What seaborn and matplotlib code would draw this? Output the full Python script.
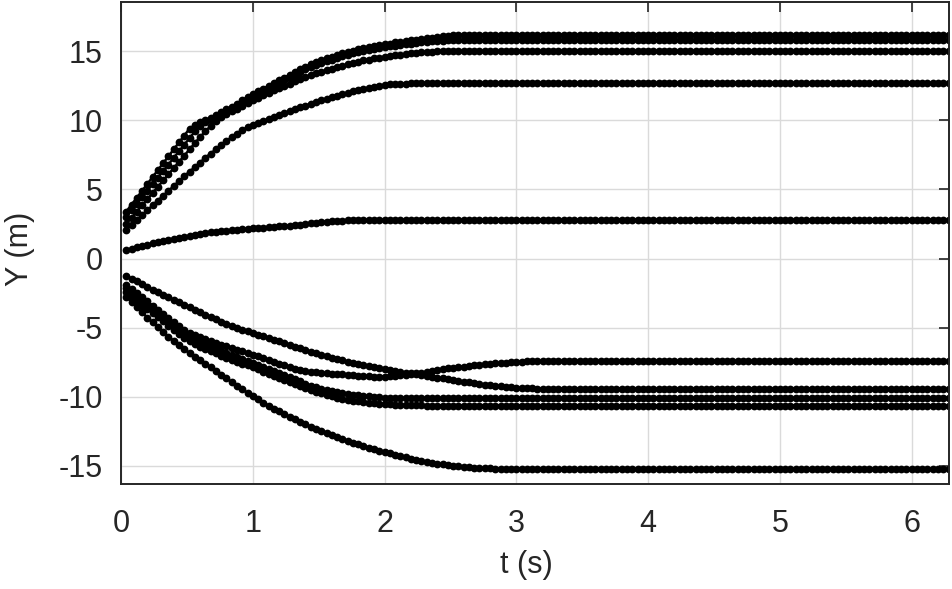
import numpy as np
import pandas as pd
import seaborn as sns
import matplotlib.pyplot as plt

# sample spacing of the trajectories (s)
DT = 0.04

# Y (m) of each trajectory, one value every DT seconds starting at t = DT
traj_a = [
    3.4, 3.9, 4.4, 4.9, 5.4, 5.9, 6.4, 6.9, 7.4, 7.9,
    8.4, 8.9, 9.4, 9.65, 9.85, 10.0, 10.2, 10.4, 10.6, 10.8,
    11.0, 11.2, 11.45, 11.7, 11.9, 12.1, 12.3, 12.5, 12.7, 12.9,
    13.1, 13.3, 13.5, 13.7, 13.9, 14.05, 14.2, 14.35, 14.5, 14.6,
    14.75, 14.85, 14.95, 15.05, 15.15, 15.25, 15.3, 15.4, 15.45, 15.5,
    15.55, 15.65, 15.7, 15.75, 15.8, 15.85, 15.9, 15.95, 16.0, 16.05,
    16.1, 16.12, 16.15, 16.18, 16.2, 16.2, 16.2, 16.2, 16.2, 16.2,
    16.2, 16.2, 16.2, 16.2, 16.2, 16.2, 16.2, 16.2, 16.2, 16.2,
    16.2, 16.2, 16.2, 16.2, 16.2, 16.2, 16.2, 16.2, 16.2, 16.2,
    16.2, 16.2, 16.2, 16.2, 16.2, 16.2, 16.2, 16.2, 16.2, 16.2,
    16.2, 16.2, 16.2, 16.2, 16.2, 16.2, 16.2, 16.2, 16.2, 16.2,
    16.2, 16.2, 16.2, 16.2, 16.2, 16.2, 16.2, 16.2, 16.2, 16.2,
    16.2, 16.2, 16.2, 16.2, 16.2, 16.2, 16.2, 16.2, 16.2, 16.2,
    16.2, 16.2, 16.2, 16.2, 16.2, 16.2, 16.2, 16.2, 16.2, 16.2,
    16.2, 16.2, 16.2, 16.2, 16.2, 16.2, 16.2, 16.2, 16.2, 16.2,
    16.2, 16.2, 16.2, 16.2, 16.2, 16.2, 16.2,
]
traj_b = [
    3.0, 3.5, 3.95, 4.45, 4.9, 5.4, 5.85, 6.35, 6.8, 7.3,
    7.75, 8.25, 8.7, 9.2, 9.6, 9.85, 10.05, 10.25, 10.45, 10.65,
    10.85, 11.05, 11.3, 11.5, 11.7, 11.9, 12.1, 12.3, 12.5, 12.7,
    12.9, 13.1, 13.3, 13.5, 13.7, 13.85, 14.0, 14.15, 14.3, 14.4,
    14.55, 14.65, 14.75, 14.85, 14.95, 15.05, 15.1, 15.2, 15.25, 15.3,
    15.35, 15.4, 15.45, 15.5, 15.55, 15.6, 15.65, 15.7, 15.72, 15.75,
    15.77, 15.8, 15.8, 15.8, 15.8, 15.8, 15.8, 15.8, 15.8, 15.8,
    15.8, 15.8, 15.8, 15.8, 15.8, 15.8, 15.8, 15.8, 15.8, 15.8,
    15.8, 15.8, 15.8, 15.8, 15.8, 15.8, 15.8, 15.8, 15.8, 15.8,
    15.8, 15.8, 15.8, 15.8, 15.8, 15.8, 15.8, 15.8, 15.8, 15.8,
    15.8, 15.8, 15.8, 15.8, 15.8, 15.8, 15.8, 15.8, 15.8, 15.8,
    15.8, 15.8, 15.8, 15.8, 15.8, 15.8, 15.8, 15.8, 15.8, 15.8,
    15.8, 15.8, 15.8, 15.8, 15.8, 15.8, 15.8, 15.8, 15.8, 15.8,
    15.8, 15.8, 15.8, 15.8, 15.8, 15.8, 15.8, 15.8, 15.8, 15.8,
    15.8, 15.8, 15.8, 15.8, 15.8, 15.8, 15.8, 15.8, 15.8, 15.8,
    15.8, 15.8, 15.8, 15.8, 15.8, 15.8, 15.8,
]
traj_c = [
    2.5, 2.95, 3.4, 3.85, 4.3, 4.75, 5.2, 5.65, 6.1, 6.55,
    7.0, 7.45, 7.9, 8.35, 8.8, 9.2, 9.6, 9.95, 10.25, 10.45,
    10.65, 10.85, 11.05, 11.25, 11.45, 11.65, 11.85, 12.0, 12.2, 12.35,
    12.5, 12.65, 12.85, 13.0, 13.15, 13.25, 13.4, 13.5, 13.65, 13.75,
    13.85, 13.95, 14.05, 14.15, 14.25, 14.35, 14.4, 14.5, 14.55, 14.6,
    14.65, 14.7, 14.75, 14.8, 14.85, 14.9, 14.93, 14.96, 14.98, 15.0,
    15.0, 15.0, 15.0, 15.0, 15.0, 15.0, 15.0, 15.0, 15.0, 15.0,
    15.0, 15.0, 15.0, 15.0, 15.0, 15.0, 15.0, 15.0, 15.0, 15.0,
    15.0, 15.0, 15.0, 15.0, 15.0, 15.0, 15.0, 15.0, 15.0, 15.0,
    15.0, 15.0, 15.0, 15.0, 15.0, 15.0, 15.0, 15.0, 15.0, 15.0,
    15.0, 15.0, 15.0, 15.0, 15.0, 15.0, 15.0, 15.0, 15.0, 15.0,
    15.0, 15.0, 15.0, 15.0, 15.0, 15.0, 15.0, 15.0, 15.0, 15.0,
    15.0, 15.0, 15.0, 15.0, 15.0, 15.0, 15.0, 15.0, 15.0, 15.0,
    15.0, 15.0, 15.0, 15.0, 15.0, 15.0, 15.0, 15.0, 15.0, 15.0,
    15.0, 15.0, 15.0, 15.0, 15.0, 15.0, 15.0, 15.0, 15.0, 15.0,
    15.0, 15.0, 15.0, 15.0, 15.0, 15.0, 15.0,
]
traj_d = [
    2.1, 2.45, 2.8, 3.15, 3.5, 3.85, 4.2, 4.55, 4.9, 5.25,
    5.6, 5.95, 6.3, 6.6, 6.95, 7.3, 7.6, 7.9, 8.2, 8.5,
    8.8, 9.05, 9.3, 9.5, 9.65, 9.8, 9.95, 10.1, 10.25, 10.4,
    10.5, 10.65, 10.8, 10.95, 11.05, 11.2, 11.3, 11.45, 11.55, 11.7,
    11.8, 11.9, 12.0, 12.1, 12.2, 12.3, 12.35, 12.45, 12.5, 12.55,
    12.6, 12.62, 12.65, 12.67, 12.7, 12.7, 12.7, 12.7, 12.7, 12.7,
    12.7, 12.7, 12.7, 12.7, 12.7, 12.7, 12.7, 12.7, 12.7, 12.7,
    12.7, 12.7, 12.7, 12.7, 12.7, 12.7, 12.7, 12.7, 12.7, 12.7,
    12.7, 12.7, 12.7, 12.7, 12.7, 12.7, 12.7, 12.7, 12.7, 12.7,
    12.7, 12.7, 12.7, 12.7, 12.7, 12.7, 12.7, 12.7, 12.7, 12.7,
    12.7, 12.7, 12.7, 12.7, 12.7, 12.7, 12.7, 12.7, 12.7, 12.7,
    12.7, 12.7, 12.7, 12.7, 12.7, 12.7, 12.7, 12.7, 12.7, 12.7,
    12.7, 12.7, 12.7, 12.7, 12.7, 12.7, 12.7, 12.7, 12.7, 12.7,
    12.7, 12.7, 12.7, 12.7, 12.7, 12.7, 12.7, 12.7, 12.7, 12.7,
    12.7, 12.7, 12.7, 12.7, 12.7, 12.7, 12.7, 12.7, 12.7, 12.7,
    12.7, 12.7, 12.7, 12.7, 12.7, 12.7, 12.7,
]
traj_m = [
    0.6, 0.7, 0.8, 0.9, 1.0, 1.1, 1.18, 1.26, 1.35, 1.43,
    1.5, 1.58, 1.65, 1.72, 1.78, 1.84, 1.89, 1.93, 1.97, 2.0,
    2.04, 2.08, 2.12, 2.15, 2.18, 2.21, 2.24, 2.27, 2.3, 2.32,
    2.35, 2.38, 2.41, 2.45, 2.5, 2.55, 2.6, 2.64, 2.67, 2.7,
    2.72, 2.74, 2.76, 2.77, 2.78, 2.79, 2.8, 2.8, 2.8, 2.8,
    2.8, 2.8, 2.8, 2.8, 2.8, 2.8, 2.8, 2.8, 2.8, 2.8,
    2.8, 2.8, 2.8, 2.8, 2.8, 2.8, 2.8, 2.8, 2.8, 2.8,
    2.8, 2.8, 2.8, 2.8, 2.8, 2.8, 2.8, 2.8, 2.8, 2.8,
    2.8, 2.8, 2.8, 2.8, 2.8, 2.8, 2.8, 2.8, 2.8, 2.8,
    2.8, 2.8, 2.8, 2.8, 2.8, 2.8, 2.8, 2.8, 2.8, 2.8,
    2.8, 2.8, 2.8, 2.8, 2.8, 2.8, 2.8, 2.8, 2.8, 2.8,
    2.8, 2.8, 2.8, 2.8, 2.8, 2.8, 2.8, 2.8, 2.8, 2.8,
    2.8, 2.8, 2.8, 2.8, 2.8, 2.8, 2.8, 2.8, 2.8, 2.8,
    2.8, 2.8, 2.8, 2.8, 2.8, 2.8, 2.8, 2.8, 2.8, 2.8,
    2.8, 2.8, 2.8, 2.8, 2.8, 2.8, 2.8, 2.8, 2.8, 2.8,
    2.8, 2.8, 2.8, 2.8, 2.8, 2.8, 2.8,
]
traj_e = [
    -1.25, -1.45, -1.65, -1.85, -2.05, -2.25, -2.45, -2.65, -2.82, -3.0,
    -3.18, -3.36, -3.54, -3.72, -3.9, -4.07, -4.24, -4.4, -4.56, -4.71,
    -4.86, -5.0, -5.14, -5.27, -5.4, -5.52, -5.64, -5.76, -5.88, -6.0,
    -6.12, -6.24, -6.37, -6.5, -6.62, -6.74, -6.86, -6.97, -7.08, -7.18,
    -7.28, -7.37, -7.46, -7.55, -7.63, -7.71, -7.79, -7.86, -7.93, -8.0,
    -8.07, -8.13, -8.19, -8.25, -8.31, -8.37, -8.43, -8.5, -8.56, -8.62,
    -8.68, -8.74, -8.8, -8.86, -8.92, -8.97, -9.02, -9.07, -9.12, -9.16,
    -9.2, -9.24, -9.28, -9.31, -9.34, -9.36, -9.38, -9.4, -9.41, -9.42,
    -9.42, -9.42, -9.42, -9.42, -9.42, -9.42, -9.42, -9.42, -9.42, -9.42,
    -9.42, -9.42, -9.42, -9.42, -9.42, -9.42, -9.42, -9.42, -9.42, -9.42,
    -9.42, -9.42, -9.42, -9.42, -9.42, -9.42, -9.42, -9.42, -9.42, -9.42,
    -9.42, -9.42, -9.42, -9.42, -9.42, -9.42, -9.42, -9.42, -9.42, -9.42,
    -9.42, -9.42, -9.42, -9.42, -9.42, -9.42, -9.42, -9.42, -9.42, -9.42,
    -9.42, -9.42, -9.42, -9.42, -9.42, -9.42, -9.42, -9.42, -9.42, -9.42,
    -9.42, -9.42, -9.42, -9.42, -9.42, -9.42, -9.42, -9.42, -9.42, -9.42,
    -9.42, -9.42, -9.42, -9.42, -9.42, -9.42, -9.42,
]
traj_f = [
    -1.9, -2.2, -2.5, -2.8, -3.1, -3.4, -3.7, -4.0, -4.3, -4.6,
    -4.9, -5.2, -5.38, -5.53, -5.68, -5.83, -5.97, -6.1, -6.23, -6.35,
    -6.47, -6.59, -6.71, -6.83, -6.95, -7.08, -7.21, -7.34, -7.47, -7.6,
    -7.73, -7.86, -7.98, -8.08, -8.15, -8.2, -8.24, -8.27, -8.3, -8.33,
    -8.36, -8.39, -8.42, -8.45, -8.48, -8.51, -8.53, -8.55, -8.55, -8.54,
    -8.52, -8.49, -8.45, -8.41, -8.37, -8.32, -8.26, -8.2, -8.14, -8.08,
    -8.02, -7.96, -7.91, -7.86, -7.82, -7.78, -7.74, -7.7, -7.66, -7.62,
    -7.59, -7.56, -7.53, -7.5, -7.48, -7.46, -7.44, -7.44, -7.45, -7.45,
    -7.45, -7.45, -7.45, -7.45, -7.45, -7.45, -7.45, -7.45, -7.45, -7.45,
    -7.45, -7.45, -7.45, -7.45, -7.45, -7.45, -7.45, -7.45, -7.45, -7.45,
    -7.45, -7.45, -7.45, -7.45, -7.45, -7.45, -7.45, -7.45, -7.45, -7.45,
    -7.45, -7.45, -7.45, -7.45, -7.45, -7.45, -7.45, -7.45, -7.45, -7.45,
    -7.45, -7.45, -7.45, -7.45, -7.45, -7.45, -7.45, -7.45, -7.45, -7.45,
    -7.45, -7.45, -7.45, -7.45, -7.45, -7.45, -7.45, -7.45, -7.45, -7.45,
    -7.45, -7.45, -7.45, -7.45, -7.45, -7.45, -7.45, -7.45, -7.45, -7.45,
    -7.45, -7.45, -7.45, -7.45, -7.45, -7.45, -7.45,
]
traj_g = [
    -2.15, -2.45, -2.75, -3.05, -3.35, -3.65, -3.95, -4.25, -4.55, -4.85,
    -5.15, -5.45, -5.68, -5.86, -6.03, -6.2, -6.36, -6.52, -6.68, -6.83,
    -6.98, -7.13, -7.27, -7.41, -7.55, -7.7, -7.85, -8.0, -8.15, -8.3,
    -8.45, -8.6, -8.75, -8.9, -9.05, -9.2, -9.32, -9.42, -9.52, -9.6,
    -9.67, -9.74, -9.8, -9.85, -9.9, -9.94, -9.98, -10.01, -10.04, -10.06,
    -10.08, -10.09, -10.1, -10.11, -10.12, -10.12, -10.12, -10.12, -10.12, -10.12,
    -10.12, -10.12, -10.12, -10.12, -10.12, -10.12, -10.12, -10.12, -10.12, -10.12,
    -10.12, -10.12, -10.12, -10.12, -10.12, -10.12, -10.12, -10.12, -10.12, -10.12,
    -10.12, -10.12, -10.12, -10.12, -10.12, -10.12, -10.12, -10.12, -10.12, -10.12,
    -10.12, -10.12, -10.12, -10.12, -10.12, -10.12, -10.12, -10.12, -10.12, -10.12,
    -10.12, -10.12, -10.12, -10.12, -10.12, -10.12, -10.12, -10.12, -10.12, -10.12,
    -10.12, -10.12, -10.12, -10.12, -10.12, -10.12, -10.12, -10.12, -10.12, -10.12,
    -10.12, -10.12, -10.12, -10.12, -10.12, -10.12, -10.12, -10.12, -10.12, -10.12,
    -10.12, -10.12, -10.12, -10.12, -10.12, -10.12, -10.12, -10.12, -10.12, -10.12,
    -10.12, -10.12, -10.12, -10.12, -10.12, -10.12, -10.12, -10.12, -10.12, -10.12,
    -10.12, -10.12, -10.12, -10.12, -10.12, -10.12, -10.12,
]
traj_h = [
    -2.45, -2.75, -3.05, -3.35, -3.65, -3.95, -4.25, -4.55, -4.85, -5.15,
    -5.45, -5.75, -6.0, -6.2, -6.38, -6.55, -6.71, -6.87, -7.02, -7.17,
    -7.32, -7.46, -7.6, -7.74, -7.88, -8.03, -8.18, -8.33, -8.48, -8.63,
    -8.78, -8.93, -9.08, -9.23, -9.38, -9.52, -9.65, -9.77, -9.88, -9.98,
    -10.07, -10.15, -10.22, -10.28, -10.34, -10.39, -10.43, -10.47, -10.5, -10.53,
    -10.55, -10.57, -10.59, -10.6, -10.61, -10.62, -10.63, -10.64, -10.64, -10.64,
    -10.64, -10.64, -10.64, -10.64, -10.64, -10.64, -10.64, -10.64, -10.64, -10.64,
    -10.64, -10.64, -10.64, -10.64, -10.64, -10.64, -10.64, -10.64, -10.64, -10.64,
    -10.64, -10.64, -10.64, -10.64, -10.64, -10.64, -10.64, -10.64, -10.64, -10.64,
    -10.64, -10.64, -10.64, -10.64, -10.64, -10.64, -10.64, -10.64, -10.64, -10.64,
    -10.64, -10.64, -10.64, -10.64, -10.64, -10.64, -10.64, -10.64, -10.64, -10.64,
    -10.64, -10.64, -10.64, -10.64, -10.64, -10.64, -10.64, -10.64, -10.64, -10.64,
    -10.64, -10.64, -10.64, -10.64, -10.64, -10.64, -10.64, -10.64, -10.64, -10.64,
    -10.64, -10.64, -10.64, -10.64, -10.64, -10.64, -10.64, -10.64, -10.64, -10.64,
    -10.64, -10.64, -10.64, -10.64, -10.64, -10.64, -10.64, -10.64, -10.64, -10.64,
    -10.64, -10.64, -10.64, -10.64, -10.64, -10.64, -10.64,
]
traj_i = [
    -2.75, -3.15, -3.53, -3.9, -4.27, -4.63, -4.98, -5.32, -5.65, -5.97,
    -6.28, -6.57, -6.84, -7.1, -7.36, -7.62, -7.88, -8.14, -8.4, -8.67,
    -8.94, -9.2, -9.46, -9.72, -9.97, -10.2, -10.43, -10.65, -10.86, -11.07,
    -11.27, -11.46, -11.65, -11.83, -12.0, -12.17, -12.33, -12.49, -12.64, -12.79,
    -12.93, -13.07, -13.2, -13.33, -13.45, -13.57, -13.69, -13.8, -13.91, -14.01,
    -14.11, -14.21, -14.3, -14.39, -14.48, -14.56, -14.64, -14.71, -14.78, -14.84,
    -14.9, -14.95, -15.0, -15.04, -15.08, -15.11, -15.14, -15.16, -15.18, -15.19,
    -15.2, -15.21, -15.22, -15.22, -15.22, -15.22, -15.22, -15.22, -15.22, -15.22,
    -15.22, -15.22, -15.22, -15.22, -15.22, -15.22, -15.22, -15.22, -15.22, -15.22,
    -15.22, -15.22, -15.22, -15.22, -15.22, -15.22, -15.22, -15.22, -15.22, -15.22,
    -15.22, -15.22, -15.22, -15.22, -15.22, -15.22, -15.22, -15.22, -15.22, -15.22,
    -15.22, -15.22, -15.22, -15.22, -15.22, -15.22, -15.22, -15.22, -15.22, -15.22,
    -15.22, -15.22, -15.22, -15.22, -15.22, -15.22, -15.22, -15.22, -15.22, -15.22,
    -15.22, -15.22, -15.22, -15.22, -15.22, -15.22, -15.22, -15.22, -15.22, -15.22,
    -15.22, -15.22, -15.22, -15.22, -15.22, -15.22, -15.22, -15.22, -15.22, -15.22,
    -15.22, -15.22, -15.22, -15.22, -15.22, -15.22, -15.22,
]

x_ticks = [0, 1, 2, 3, 4, 5, 6]
y_ticks = [-15, -10, -5, 0, 5, 10, 15]

trajectories = {
    "a": traj_a, "b": traj_b, "c": traj_c, "d": traj_d, "m": traj_m,
    "e": traj_e, "f": traj_f, "g": traj_g, "h": traj_h, "i": traj_i,
}

frames = []
for name, ys in trajectories.items():
    t = DT * np.arange(1, len(ys) + 1)
    frames.append(pd.DataFrame({"t": t, "y": ys, "traj": name}))
df = pd.concat(frames, ignore_index=True)

sns.set_style("white")
plt.rcParams["font.family"] = ["Liberation Sans", "DejaVu Sans"]
plt.rcParams["axes.unicode_minus"] = False

dark = "#262626"
fig = plt.figure(figsize=(9.52, 5.89), dpi=100)
ax = fig.add_axes([0.1271, 0.1783, 0.8697, 0.8183])

sns.lineplot(
    data=df,
    x="t",
    y="y",
    units="traj",
    estimator=None,
    sort=False,
    color="black",
    linewidth=1.8,
    marker="o",
    markersize=5.6,
    markeredgewidth=0,
    legend=False,
    ax=ax,
)

ax.set_xlim(0, 6.283)
ax.set_ylim(-16.32, 18.57)
ax.set_xticks(x_ticks)
ax.set_yticks(y_ticks)
ax.grid(True, color="#dadada", linewidth=1.0)
ax.set_axisbelow(True)

for side in ["left", "right", "top", "bottom"]:
    ax.spines[side].set_visible(True)
    ax.spines[side].set_color(dark)
    ax.spines[side].set_linewidth(1.4)

ax.tick_params(
    axis="both", which="major", direction="in", top=True, right=True,
    length=7, width=1.2, color=dark, labelcolor=dark, labelsize=22,
)
ax.tick_params(axis="x", pad=18)
ax.tick_params(axis="y", pad=13)

ax.set_xlabel("t (s)", fontsize=22, color=dark)
ax.set_ylabel("Y (m)", fontsize=22, color=dark)
ax.xaxis.set_label_coords(0.490, -0.137)
ax.yaxis.set_label_coords(-0.104, 0.488)

fig.savefig("out.png", dpi=100)
